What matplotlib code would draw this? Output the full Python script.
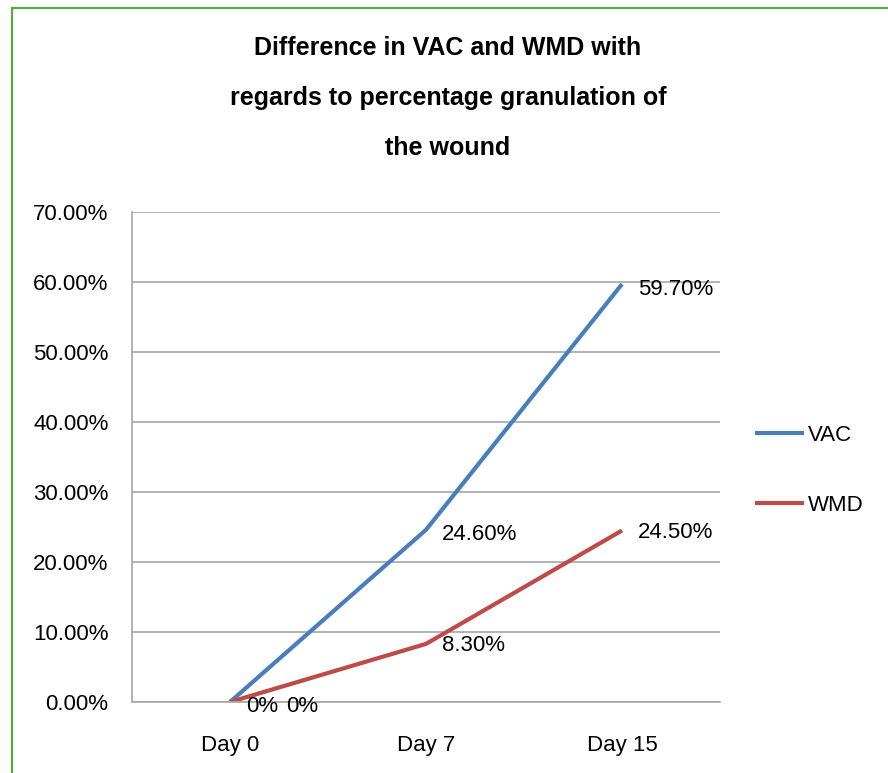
import matplotlib
matplotlib.use("Agg")
import matplotlib.pyplot as plt
from matplotlib.patches import Rectangle

plt.rcParams["font.family"] = ["Liberation Sans", "DejaVu Sans"]

days = ["Day 0", "Day 7", "Day 15"]
vac = [0.0, 24.6, 59.7]
wmd = [0.0, 8.3, 24.5]
vac_labels = ["0%", "24.60%", "59.70%"]
wmd_labels = ["0%", "8.30%", "24.50%"]
yticks = [0, 10, 20, 30, 40, 50, 60, 70]

BLUE = "#4a7ebb"
RED = "#be4b48"
GRID = "#a6a6a6"

W, H = 888, 773
fig = plt.figure(figsize=(W / 100, H / 100), dpi=100)

# green frame round the chart
fig.patches.append(Rectangle((12 / W, -0.05), 1.2, (H - 8) / H + 0.05, transform=fig.transFigure,
                             fill=False, edgecolor="#5ba64b", linewidth=1.6))

ax = fig.add_axes([132 / W, 71 / H, 588 / W, 490 / H])
x = range(len(days))
ax.plot(x, vac, color=BLUE, lw=3, label="VAC", solid_capstyle="butt")
ax.plot(x, wmd, color=RED, lw=3, label="WMD", solid_capstyle="butt")

for i, (v, t) in enumerate(zip(vac, vac_labels)):
    ax.annotate(t, (i, v), xytext=(16, -5), textcoords="offset pixels",
                ha="left", va="center", fontsize=16)
for i, (v, t) in enumerate(zip(wmd, wmd_labels)):
    dx = 56 if i == 0 else 16
    dy = -4 if i == 0 else -2
    ax.annotate(t, (i, v), xytext=(dx, dy), textcoords="offset pixels",
                ha="left", va="center", fontsize=16)

ax.set_xlim(-0.5, 2.5)
ax.set_ylim(0, 70)
ax.set_yticks(yticks)
ax.set_yticklabels([f"{t:.2f}%" for t in yticks])
ax.set_xticks(list(x))
ax.set_xticklabels(days)
ax.tick_params(axis="both", length=0, labelsize=16)
ax.tick_params(axis="y", pad=17)
ax.tick_params(axis="x", pad=24)
ax.yaxis.grid(True, color=GRID, lw=1.2)
ax.set_axisbelow(True)
for s in ("top", "right"):
    ax.spines[s].set_visible(False)
for s in ("left", "bottom"):
    ax.spines[s].set_color(GRID)
    ax.spines[s].set_linewidth(1.2)

ax.legend(loc="center left", bbox_to_anchor=(1.025, 0.472), frameon=False, fontsize=16,
          handlelength=2.2, handletextpad=0.2, labelspacing=2.2)

title = ["Difference in VAC and WMD with",
         "regards to percentage granulation of",
         "the wound"]
for k, line in enumerate(title):
    fig.text(448 / W, 1 - (48 + 50 * k) / H, line, ha="center", va="center",
             fontsize=18, fontweight="bold")

fig.savefig("out.png", dpi=100)
